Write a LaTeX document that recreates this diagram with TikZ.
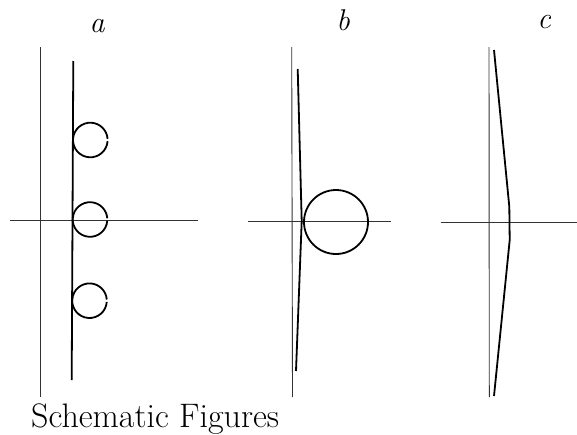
\documentclass[tikz,border=0pt]{standalone}
\usepackage{fontspec}
\begin{document}
\begin{tikzpicture}[x=1pt,y=-1pt,
  axis/.style={line width=0.9pt,black!80},
  curve/.style={line width=1.8pt,black},
  lbl/.style={inner sep=0pt,anchor=base,font=\fontsize{30}{36}\selectfont}]
\useasboundingbox (0,0) rectangle (577,434);
% panel a
\draw[axis] (40.5,47) -- (40.5,397);
\draw[axis] (10,220) -- (198,220);
\draw[curve] (73.3,61) -- (71.7,380);
\foreach \cy/\cx in {140/90.3,219.5/90,300.7/89.5}{
  \draw[curve] (\cx,\cy) ++(4:17.3) arc[start angle=4,end angle=356,radius=17.3];
}
% panel b
\draw[axis] (291.7,47) -- (292.5,397);
\draw[axis] (248,221.7) -- (391,221.7);
\draw[curve] (297.7,69) -- (301.7,221) -- (296,371);
\draw[curve] (336,222) circle[radius=32];
% panel c
\draw[axis] (489,47) -- (489.3,397);
\draw[axis] (440.7,222.3) -- (577,222.3);
\draw[curve] (494,50) -- (509.3,206.7) -- (509.7,240) -- (494,396);
% labels
\node[lbl] (la) at (97,32) {\itshape a};
\node[lbl] (lb) at (343,30) {\itshape b};
\node[lbl] (lc) at (544,28) {\itshape c};
\node[lbl,anchor=base west,font=\fontsize{34}{40}\selectfont] (title) at (31,427) {Schematic Figures};
\end{tikzpicture}
\end{document}
